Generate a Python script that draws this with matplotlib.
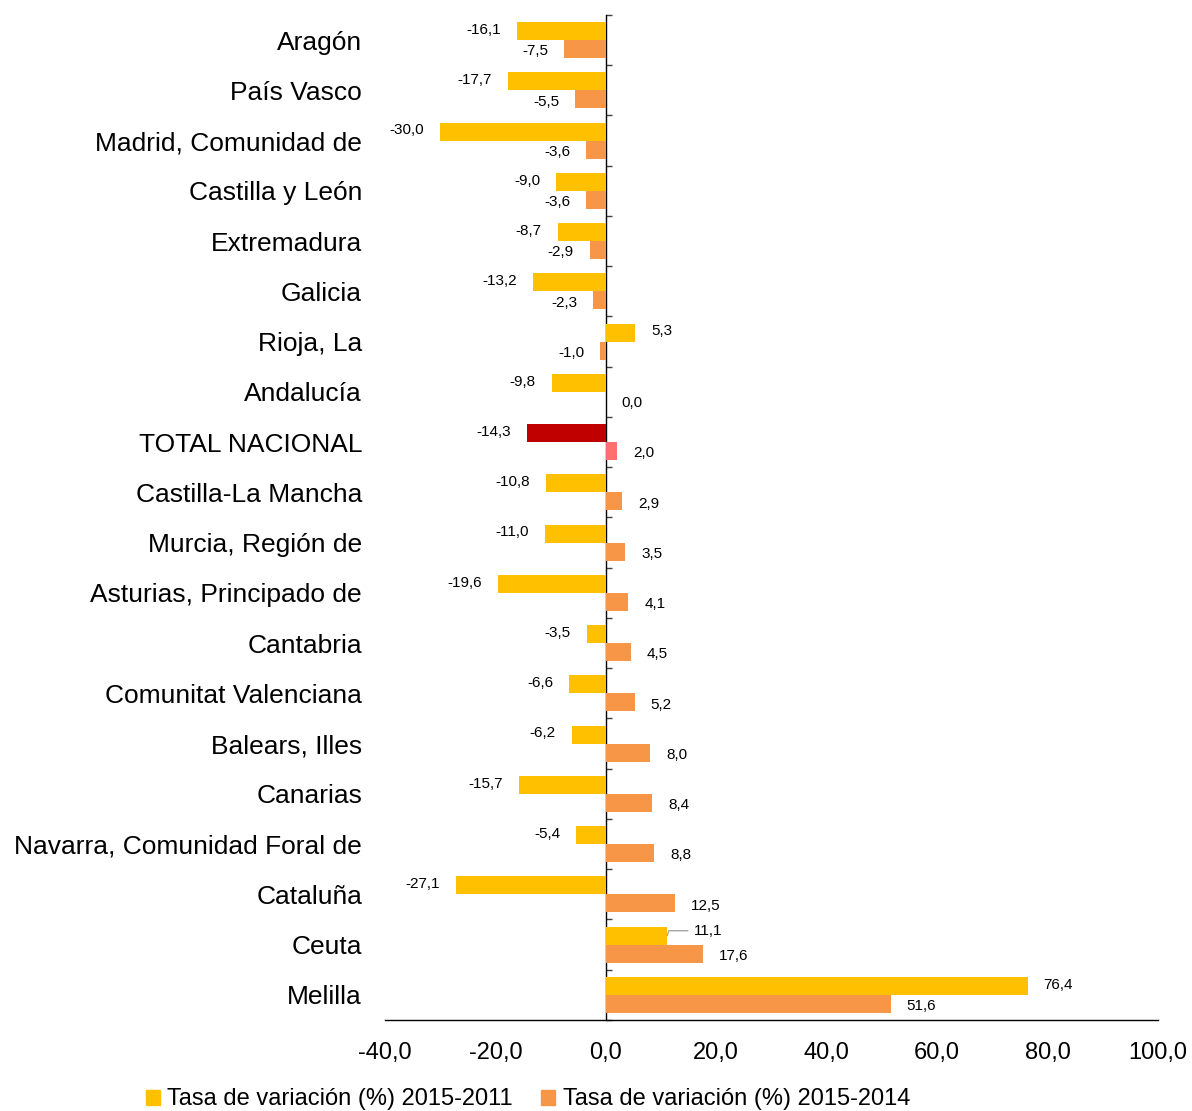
import matplotlib
matplotlib.use('Agg')
import matplotlib.pyplot as plt
import numpy as np
from matplotlib.patches import Patch

plt.rcParams['font.family'] = ['Liberation Sans', 'DejaVu Sans']

regions = ['Aragón', 'País Vasco', 'Madrid, Comunidad de', 'Castilla y León', 'Extremadura',
           'Galicia', 'Rioja, La', 'Andalucía', 'TOTAL NACIONAL', 'Castilla-La Mancha',
           'Murcia, Región de', 'Asturias, Principado de', 'Cantabria', 'Comunitat Valenciana',
           'Balears, Illes', 'Canarias', 'Navarra, Comunidad Foral de', 'Cataluña', 'Ceuta', 'Melilla']
var_2011 = [-16.1, -17.7, -30.0, -9.0, -8.7, -13.2, 5.3, -9.8, -14.3, -10.8,
            -11.0, -19.6, -3.5, -6.6, -6.2, -15.7, -5.4, -27.1, 11.1, 76.4]
var_2014 = [-7.5, -5.5, -3.6, -3.6, -2.9, -2.3, -1.0, 0.0, 2.0, 2.9,
            3.5, 4.1, 4.5, 5.2, 8.0, 8.4, 8.8, 12.5, 17.6, 51.6]
xticks = [-40, -20, 0, 20, 40, 60, 80, 100]
labels_legend = ['Tasa de variación (%) 2015-2011', 'Tasa de variación (%) 2015-2014']

c_2011, c_2014 = '#FFC000', '#F79646'
c_tot_2011, c_tot_2014 = '#C00000', '#FF6F6F'

fig = plt.figure(figsize=(11.92, 11.11), dpi=100)
ax = fig.add_axes([385 / 1192, 1 - 1020 / 1111, 773 / 1192, 1005 / 1111])

y = np.arange(len(regions))
h = 0.36
cols_a = [c_tot_2011 if r == 'TOTAL NACIONAL' else c_2011 for r in regions]
cols_b = [c_tot_2014 if r == 'TOTAL NACIONAL' else c_2014 for r in regions]
ax.barh(y - h / 2, var_2011, height=h, color=cols_a, zorder=2)
ax.barh(y + h / 2, var_2014, height=h, color=cols_b, zorder=2)


def fmt(v):
    return f'{v:.1f}'.replace('.', ',')


for yi, v, r in zip(y, var_2011, regions):
    if r == 'Ceuta':
        ax.annotate(fmt(v), xy=(v, yi - h / 2), xytext=(19, 3.5), textcoords='offset points',
                    ha='left', va='center', fontsize=11,
                    arrowprops=dict(arrowstyle='-', color='#A6A6A6', lw=1,
                                    connectionstyle='angle,angleA=0,angleB=70,rad=0',
                                    shrinkA=2, shrinkB=0, relpos=(0, 0.5)))
        continue
    off = 11.5 if v >= 0 else -11.5
    ax.annotate(fmt(v), xy=(v, yi - h / 2), xytext=(off, 0.8), textcoords='offset points',
                ha='left' if v >= 0 else 'right', va='center', fontsize=11)
for yi, v in zip(y, var_2014):
    off = 11.5 if v >= 0 else -11.5
    ax.annotate(fmt(v), xy=(v, yi + h / 2), xytext=(off, -1.6), textcoords='offset points',
                ha='left' if v >= 0 else 'right', va='center', fontsize=11)

ax.set_xlim(-40, 100)
ax.set_ylim(len(regions) - 0.5, -0.5)
ax.set_xticks(xticks, [fmt(t) for t in xticks], fontsize=17)
ax.set_yticks(y, regions, fontsize=19)
ax.tick_params(axis='x', length=0, pad=15.5)
ax.tick_params(axis='y', length=0, pad=16.5)
for s in ['left', 'top', 'right']:
    ax.spines[s].set_visible(False)
ax.spines['bottom'].set_linewidth(1)

# category axis sits at zero
sec = ax.secondary_yaxis(40 / 140)
sec.set_yticks(np.arange(-0.5, len(regions), 1), [])
sec.tick_params(direction='in', length=4.5, color='#404040', width=1)
sec.spines['left'].set_linewidth(1)

handles = [Patch(color=c_2011), Patch(color=c_2014)]
fig.legend(handles, labels_legend, loc='center', bbox_to_anchor=(528 / 1192, 0.0105),
           ncol=2, frameon=False, fontsize=17, handlelength=0.6, handleheight=0.6,
           handletextpad=0.3, columnspacing=1.2)

fig.savefig('out.png', dpi=100)
